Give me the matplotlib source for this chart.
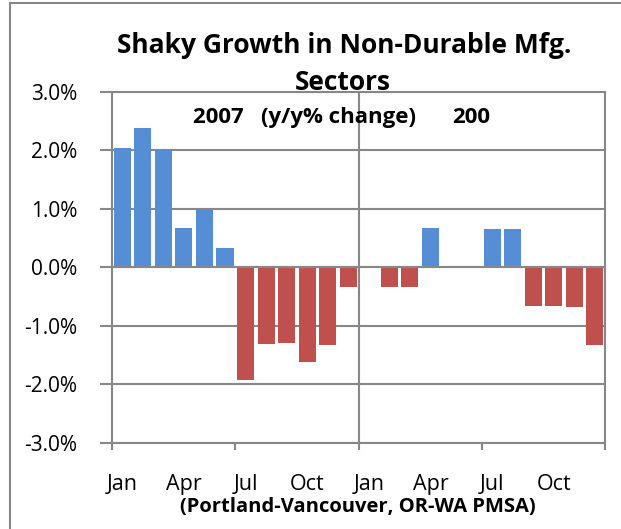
import matplotlib
matplotlib.use("Agg")
import matplotlib.pyplot as plt
import numpy as np
from matplotlib.patches import Rectangle

# y/y % change, Jan 2007 .. Dec 2008
months = ["Jan", "Feb", "Mar", "Apr", "May", "Jun", "Jul", "Aug", "Sep", "Oct", "Nov", "Dec"] * 2
growth = [2.05, 2.38, 2.03, 0.68, 1.00, 0.33, -1.92, -1.30, -1.29, -1.62, -1.32, -0.33,
          0.0, -0.33, -0.33, 0.68, 0.0, 0.0, 0.66, 0.66, -0.65, -0.65, -0.67, -1.33]
yticks = [-3, -2, -1, 0, 1, 2, 3]

blue = "#558ED5"
red = "#C0504D"
grid_c = "#878787"
font = "Open Sans"

fig = plt.figure(figsize=(6.21, 5.29), dpi=100)
ax = fig.add_axes([0.1804, 0.1626, 0.794, 0.6635])

x = np.arange(len(growth))
g = np.array(growth)
colors = [blue if v >= 0 else red for v in g]
ax.bar(x, g, width=0.83, color=colors, zorder=3)

ax.set_xlim(-0.5, len(growth) - 0.5)
ax.set_ylim(-3, 3)
ax.set_yticks(yticks)
ax.set_yticklabels(["%.1f%%" % v for v in yticks], fontsize=15, family=font)
ax.yaxis.grid(True, color=grid_c, linewidth=1.5, zorder=0)
ax.axvline(11.5, color=grid_c, linewidth=1.5, zorder=1)
ax.axhline(0, color=grid_c, linewidth=1.5, zorder=4)

# month labels every quarter, tick marks every half year
ax.set_xticks(x[::3])
ax.set_xticklabels(months[::3], fontsize=15.5, family=font)
ax.set_xticks([-0.5, 5.5, 11.5, 17.5, 23.5], minor=True)
ax.tick_params(axis="x", which="major", length=0, pad=22)
ax.tick_params(axis="x", which="minor", length=5, width=1.5, color=grid_c)
ax.tick_params(axis="y", length=9, width=1.5, color=grid_c, pad=16)
for s in ax.spines.values():
    s.set_color(grid_c)
    s.set_linewidth(1.5)

fig.text(0.555, 0.8998, "Shaky Growth in Non-Durable Mfg.", ha="center", va="baseline",
         fontsize=19, fontweight="bold", family=font)
fig.text(0.552, 0.8299, "Sectors", ha="center", va="baseline",
         fontsize=19, fontweight="bold", family=font)
ax.text(0.164, 0.927, "2007   (y/y% change)", transform=ax.transAxes, ha="left", va="center",
        fontsize=16, fontweight="bold", family=font)
ax.text(0.69, 0.927, "200", transform=ax.transAxes, ha="left", va="center",
        fontsize=16, fontweight="bold", family=font)
fig.text(0.576, 0.032, "(Portland-Vancouver, OR-WA PMSA)", ha="center", va="baseline",
         fontsize=14.5, fontweight="bold", family=font)

fig.patches.append(Rectangle((0.016, -0.05), 1.0, 1.0443, transform=fig.transFigure,
                             fill=False, edgecolor=grid_c, linewidth=1.5))

fig.savefig("out.png", dpi=100)
